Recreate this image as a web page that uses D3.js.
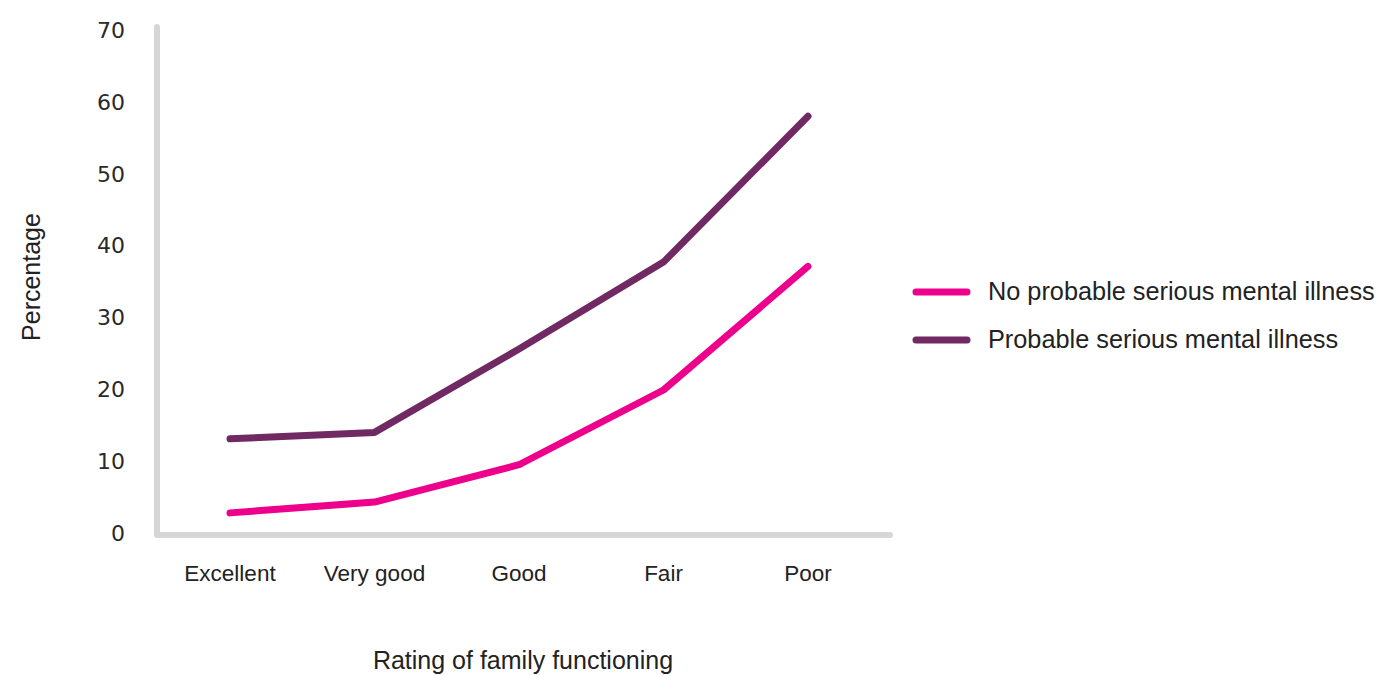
<!DOCTYPE html>
<html><head><meta charset="utf-8">
<script src="https://cdn.jsdelivr.net/npm/d3@7/dist/d3.min.js"></script>
<style>body{margin:0;background:#fff}</style>
</head><body>
<svg id="c" width="1382" height="675"></svg>
<script>
const categories = ["Excellent","Very good","Good","Fair","Poor"];
const noSMI = [2.8, 4.3, 9.5, 19.9, 37.1];
const probSMI = [13.1, 14.0, 25.6, 37.7, 58.0];
const seriesNames = ["No probable serious mental illness","Probable serious mental illness"];
const seriesColors = ["#ec008c","#702963"];
const yTicks = [0,10,20,30,40,50,60,70];

const svg = d3.select("#c");
const x = d3.scalePoint().domain(categories).range([230,808]);
const y = d3.scaleLinear().domain([0,70]).range([533,30]);

// axes lines
const axisColor = "#d6d6d6";
svg.append("path").attr("d", d3.line()([[157,27],[157,535],[890,535]]))
  .attr("fill","none").attr("stroke",axisColor).attr("stroke-width",6)
  .attr("stroke-linecap","round").attr("stroke-linejoin","round");

// y tick labels
svg.append("g").selectAll("text").data(yTicks).join("text")
  .attr("x",125).attr("y",d=>y(d)).attr("dy","0.36em")
  .attr("text-anchor","end").attr("font-family","DejaVu Sans").attr("font-size",22)
  .attr("fill","#2a2a2a").text(d=>d);

// x labels
svg.append("g").selectAll("text").data(categories).join("text")
  .attr("x",d=>x(d)).attr("y",581).attr("text-anchor","middle")
  .attr("font-family","Liberation Sans").attr("font-size",22.5)
  .attr("fill","#222").text(d=>d);

// titles
svg.append("text").attr("x",523).attr("y",669).attr("text-anchor","middle")
  .attr("font-family","Liberation Sans").attr("font-size",25).attr("fill","#222")
  .text("Rating of family functioning");
svg.append("text").attr("transform","translate(40,277) rotate(-90)").attr("text-anchor","middle")
  .attr("font-family","Liberation Sans").attr("font-size",25).attr("fill","#222")
  .text("Percentage");

// lines
const line = d3.line().x((d,i)=>x(categories[i])).y(d=>y(d));
[probSMI, noSMI].forEach((s,k)=>{
  const idx = k===0 ? 1 : 0;
  svg.append("path").attr("d",line(s)).attr("fill","none")
    .attr("stroke",seriesColors[idx]).attr("stroke-width",7)
    .attr("stroke-linecap","round").attr("stroke-linejoin","round");
});

// legend
const lg = svg.append("g");
seriesNames.forEach((n,i)=>{
  const yy = 292 + i*48;
  lg.append("line").attr("x1",916).attr("x2",967).attr("y1",yy).attr("y2",yy)
    .attr("stroke",seriesColors[i]).attr("stroke-width",7).attr("stroke-linecap","round");
  lg.append("text").attr("x",988).attr("y",yy+8).attr("font-family","Liberation Sans")
    .attr("font-size",25.3).attr("fill","#222").text(n);
});
</script>
</body></html>
